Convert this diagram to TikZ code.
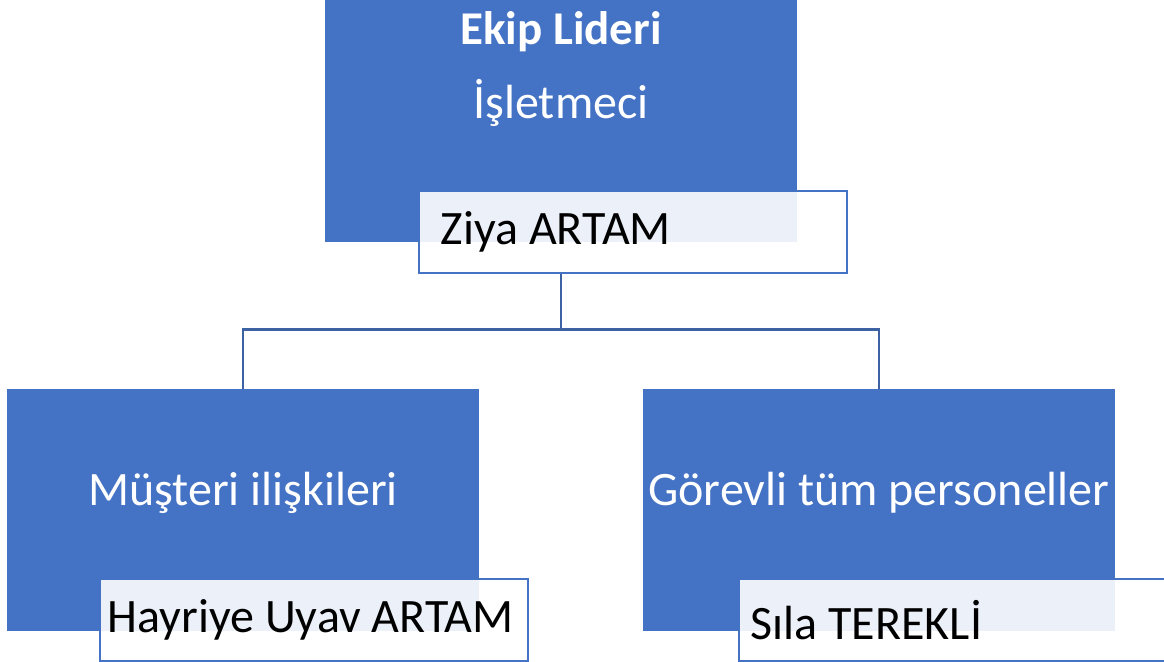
\documentclass[tikz,border=0pt]{standalone}
\usepackage{fontspec}
\setmainfont{Carlito}
\usepackage{tikz}
\usetikzlibrary{positioning,calc}
\definecolor{unitblue}{HTML}{4472C4}
\definecolor{linkblue}{HTML}{3D62A3}
\newcommand{\kisi}[2]{\makebox[428pt][l]{\hspace*{#1}#2}}

\begin{document}
\begin{tikzpicture}[x=1pt,y=-1pt,
  unit/.style={fill=unitblue,minimum width=472pt,minimum height=242pt,inner sep=0pt,outer sep=0pt},
  unittext/.style={text=white,font=\fontsize{48}{56}\selectfont,inner sep=0pt},
  namebox/.style={draw=unitblue,line width=1.5pt,fill=white,fill opacity=0.9,text opacity=1,
    minimum height=82pt,inner xsep=0pt,inner ysep=0pt,
    anchor=north west,font=\fontsize{48}{56}\selectfont},
  link/.style={draw=linkblue,line width=2.2pt}]
\useasboundingbox (0,0) rectangle (1164,661);
\node[unit] (lider) at (561,121) {};
\node[unit,below=147pt of lider,xshift=-318pt] (musteri) {};
\node[unit,right=164pt of musteri] (gorevli) {};

\node[unittext,font=\fontsize{47}{55}\selectfont\bfseries] (liderad) at ($(lider.north)+(0,32)$) {Ekip Lideri};
\node[unittext] (isletmeci) at ($(lider.north)+(0,103)$) {İşletmeci};
\node[unittext] (musteriad) at ($(musteri.center)+(0,-17)$) {Müşteri ilişkileri};
\node[unittext] (gorevliad) at ($(gorevli.center)+(0,-17)$) {Görevli tüm personeller};

\node[namebox] (ziya) at ($(lider.south west)+(93,-52)$) {\kisi{22pt}{Ziya ARTAM}};
\node[namebox] (hayriye) at ($(musteri.south west)+(92,-53)$) {\kisi{8pt}{Hayriye Uyav ARTAM}};
\node[namebox] (sila) at ($(gorevli.south west)+(95,-53)$) {\kisi{12pt}{Sıla TEREKLİ}};

\path[link] (lider.south |- ziya.south) -- ++(0,56) coordinate (dal);
\path[link] (dal) -| (musteri.north);
\path[link] (dal) -| (gorevli.north);
\end{tikzpicture}
\end{document}
